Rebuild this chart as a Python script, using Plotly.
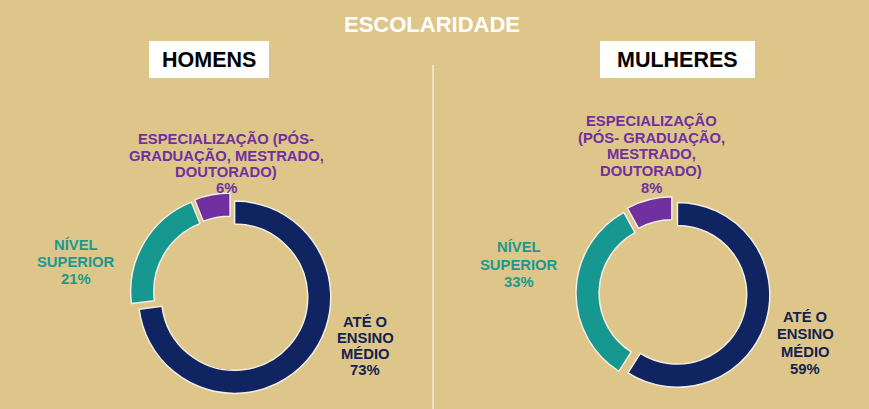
import plotly.graph_objects as go

W, H = 869, 409

# ---- data ----
categories = ["ATÉ O ENSINO MÉDIO", "NÍVEL SUPERIOR", "ESPECIALIZAÇÃO (PÓS-GRADUAÇÃO, MESTRADO, DOUTORADO)"]
homens_pct = [73, 21, 6]
mulheres_pct = [59, 33, 8]

title_text = "ESCOLARIDADE"
panel_titles = ["HOMENS", "MULHERES"]

# label lines (as in the original wrapping)
homens_label_lines = [
    ["ATÉ O", "ENSINO", "MÉDIO"],
    ["NÍVEL", "SUPERIOR"],
    ["ESPECIALIZAÇÃO (PÓS-", "GRADUAÇÃO, MESTRADO,", "DOUTORADO)"],
]
mulheres_label_lines = [
    ["ATÉ O", "ENSINO", "MÉDIO"],
    ["NÍVEL", "SUPERIOR"],
    ["ESPECIALIZAÇÃO", "(PÓS- GRADUAÇÃO,", "MESTRADO,", "DOUTORADO)"],
]

# ---- style ----
BG = "#DEC68A"
slice_colors = ["#0F2461", "#16978F", "#7030A0"]
text_colors = ["#13224F", "#1A9990", "#7030A0"]
FONT = "Liberation Sans, Arial, sans-serif"


def px(x):
    return x / W


def py(y):
    return 1 - y / H


def domain(cx, cy, half):
    return dict(x=[px(cx - half), px(cx + half)], y=[py(cy + half), py(cy - half)])


fig = go.Figure()

pies = [
    (homens_pct, domain(231, 294, 101), 0.76),
    (mulheres_pct, domain(673, 293.5, 97), 0.75),
]
for vals, dom, hole in pies:
    fig.add_trace(go.Pie(
        labels=categories, values=vals, hole=hole, sort=False,
        direction="clockwise", rotation=0, pull=0.05,
        textinfo="none", hoverinfo="label+percent",
        marker=dict(colors=slice_colors, line=dict(color="#F3EFE4", width=1.5)),
        domain=dom, showlegend=False,
    ))

annotations = []


def add_label(lines, value, cx, y_first, step, color, size=14.8):
    allines = lines + [f"{value}%"]
    for i, t in enumerate(allines):
        annotations.append(dict(
            x=px(cx), y=py(y_first + i * step), xref="paper", yref="paper",
            text=f"<b>{t}</b>", showarrow=False, xanchor="center", yanchor="middle",
            font=dict(family=FONT, size=size, color=color),
        ))


# homens labels
add_label(homens_label_lines[0], homens_pct[0], 365, 322, 16, text_colors[0])
add_label(homens_label_lines[1], homens_pct[1], 76, 245, 17, text_colors[1])
add_label(homens_label_lines[2], homens_pct[2], 226, 139, 16.3, text_colors[2])
# mulheres labels
add_label(mulheres_label_lines[0], mulheres_pct[0], 805, 317, 17.3, text_colors[0])
add_label(mulheres_label_lines[1], mulheres_pct[1], 519, 247, 17.5, text_colors[1])
add_label(mulheres_label_lines[2], mulheres_pct[2], 651, 120, 17, text_colors[2])

# title
annotations.append(dict(
    x=px(432), y=py(24), xref="paper", yref="paper", text=f"<b>{title_text}</b>",
    showarrow=False, xanchor="center", yanchor="middle",
    font=dict(family=FONT, size=22, color="#FFFFFF"),
))

shapes = []
boxes = [(149, 41, 269, 78), (600, 41, 755, 78)]
for (x0, y0, x1, y1), t in zip(boxes, panel_titles):
    shapes.append(dict(type="rect", xref="paper", yref="paper",
                       x0=px(x0), x1=px(x1), y0=py(y1), y1=py(y0),
                       fillcolor="#FFFFFF", line=dict(width=0), layer="below"))
    annotations.append(dict(
        x=px((x0 + x1) / 2), y=py((y0 + y1) / 2 + 0.5), xref="paper", yref="paper",
        text=f"<b>{t}</b>", showarrow=False, xanchor="center", yanchor="middle",
        font=dict(family=FONT, size=21.5, color="#000000"),
    ))

# divider
shapes.append(dict(type="line", xref="paper", yref="paper",
                   x0=px(433), x1=px(433), y0=py(409), y1=py(65),
                   line=dict(color="#FBF6EA", width=1.2)))

fig.update_layout(
    width=W, height=H, margin=dict(l=0, r=0, t=0, b=0),
    paper_bgcolor=BG, plot_bgcolor=BG,
    annotations=annotations, shapes=shapes,
)

fig.write_html("out.html")
